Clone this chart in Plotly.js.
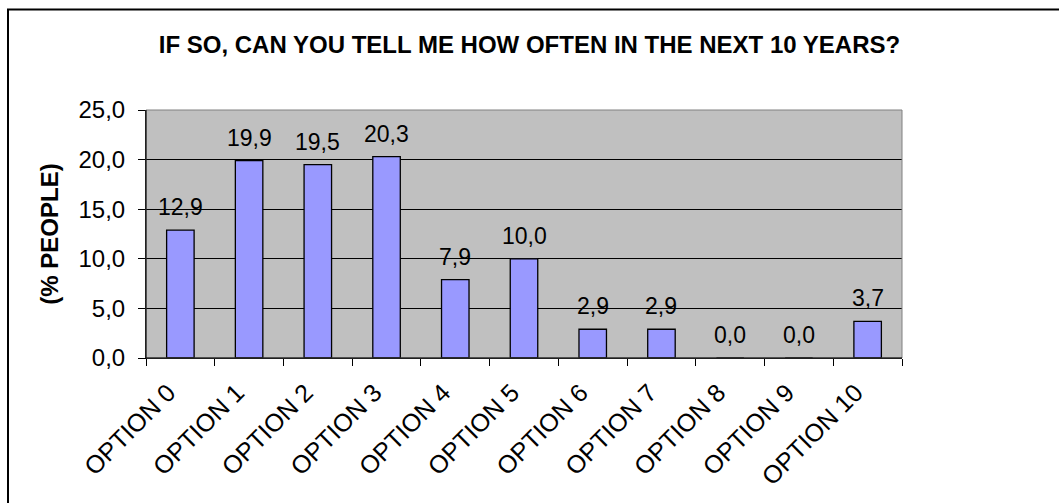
<!DOCTYPE html>
<html>
<head>
<meta charset="utf-8">
<script src="https://cdn.plot.ly/plotly-3.0.1.min.js"></script>
<style>html,body{margin:0;padding:0;background:#fff;}#chart{width:1059px;height:503px;}</style>
</head>
<body>
<div id="chart"></div>
<script>
const categories = ["OPTION 0","OPTION 1","OPTION 2","OPTION 3","OPTION 4","OPTION 5","OPTION 6","OPTION 7","OPTION 8","OPTION 9","OPTION 10"];
const values = [12.9, 19.9, 19.5, 20.3, 7.9, 10.0, 2.9, 2.9, 0.0, 0.0, 3.7];
const yTicks = [0, 5, 10, 15, 20, 25];
const titleText = "IF SO, CAN YOU TELL ME HOW OFTEN IN THE NEXT 10 YEARS?";
const yTitle = "(% PEOPLE)";

const font = "Arial, 'Liberation Sans', sans-serif";

const trace = {
  type: "bar",
  x: categories,
  y: values,
  marker: {color: "#9999FF", line: {color: "#000000", width: 1.3}},
  cliponaxis: false,
  hoverinfo: "skip"
};

const labels = categories.map((c, i) => ({
  x: c, y: values[i], xref: "x", yref: "y",
  text: values[i].toFixed(1).replace(".", ","),
  showarrow: false, yanchor: "bottom", xanchor: "center", yshift: 8,
  font: {family: font, size: 23, color: "#000"}
}));

const layout = {
  width: 1059, height: 503,
  margin: {l: 146, r: 157, t: 110, b: 145},
  paper_bgcolor: "#ffffff",
  plot_bgcolor: "#C0C0C0",
  separators: ",.",
  bargap: 0.6,
  showlegend: false,
  font: {family: font, color: "#000"},
  title: {
    text: "<b>" + titleText + "</b>",
    font: {family: font, size: 24, color: "#000"},
    x: 0.5, xanchor: "center", xref: "container",
    y: 1 - 45/503, yanchor: "middle", yref: "container"
  },
  xaxis: {
    type: "category",
    tickangle: -45,
    tickson: "boundaries",
    ticks: "outside", ticklen: 7, tickcolor: "#000", tickwidth: 1,
    ticklabelstandoff: 9,
    ticklabelshift: -12,
    showline: true, linecolor: "#000", linewidth: 1,
    showgrid: false, zeroline: false,
    tickfont: {family: font, size: 25, color: "#000"},
    automargin: false,
    fixedrange: true
  },
  yaxis: {
    range: [0, 25],
    tickvals: yTicks,
    tickformat: ".1f",
    ticks: "outside", ticklen: 7, tickcolor: "#000", tickwidth: 1,
    ticklabelstandoff: 8,
    showline: true, linecolor: "#000", linewidth: 1,
    showgrid: true, gridcolor: "#000", gridwidth: 1,
    zeroline: false,
    tickfont: {family: font, size: 24, color: "#000"},
    title: {text: "<b>" + yTitle + "</b>", font: {family: font, size: 24, color: "#000"}, standoff: 13},
    automargin: false,
    fixedrange: true
  },
  annotations: labels,
  shapes: [
    {type: "rect", xref: "paper", yref: "paper", x0: 0, x1: 1, y0: 0, y1: 1,
     line: {color: "#808080", width: 1}, fillcolor: "rgba(0,0,0,0)", layer: "above"},
    {type: "line", xref: "paper", yref: "paper", x0: 0, x1: 0, y0: 0, y1: 1,
     line: {color: "#000", width: 1}, layer: "above"},
    {type: "line", xref: "paper", yref: "paper", x0: 0, x1: 1, y0: 0, y1: 0,
     line: {color: "#000", width: 1}, layer: "above"},
    {type: "rect", xref: "paper", yref: "paper", x0: -138/756, x1: 1.215, y0: -0.6, y1: (358-9.5)/248,
     line: {color: "#000", width: 2}, fillcolor: "rgba(0,0,0,0)", layer: "above"}
  ]
};

Plotly.newPlot("chart", [trace], layout, {displayModeBar: false, staticPlot: true});
</script>
</body>
</html>
